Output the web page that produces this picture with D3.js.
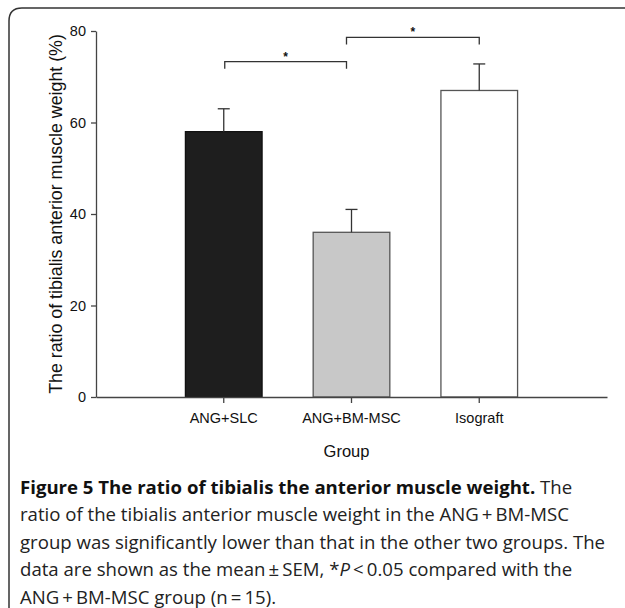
<!DOCTYPE html>
<html>
<head>
<meta charset="utf-8">
<script src="https://cdn.jsdelivr.net/npm/d3@7"></script>
<style>
  body { margin: 0; background: #fff; }
  svg { display: block; }
  .axis path, .axis line { stroke: #444; stroke-width: 1.3; }
  .axis text { font-family: 'Liberation Sans', Arial, sans-serif; font-size: 14px; fill: #111; }
  .caption { font-family: 'Open Sans', sans-serif; fill: #222; }
</style>
</head>
<body>
<div id="chart"></div>
<script>
// data
const groups = ['ANG+SLC', 'ANG+BM-MSC', 'Isograft'];
const means = [58, 36, 67];
const sems = [5, 5, 5.8];
const barFills = ['#1e1e1e', '#c8c8c8', '#ffffff'];
const yTicks = [0, 20, 40, 60, 80];
// significance brackets: [from group, to group, level]
const sigPairs = [['ANG+SLC', 'ANG+BM-MSC', 73.3], ['ANG+BM-MSC', 'Isograft', 78.6]];
const captionLines = [
  [{t: 'Figure 5 The ratio of tibialis the anterior muscle weight.', b: true}, {t: ' The'}],
  [{t: 'ratio of the tibialis anterior muscle weight in the ANG\u2009+\u2009BM-MSC'}],
  [{t: 'group was significantly lower than that in the other two groups. The'}],
  [{t: 'data are shown as the mean\u2009\u00b1\u2009SEM, *'}, {t: 'P', i: true}, {t: '\u2009<\u20090.05 compared with the'}],
  [{t: 'ANG\u2009+\u2009BM-MSC group (n\u2009=\u200915).'}]
];

const W = 625, H = 608;
const margin = { left: 96, right: 18, top: 31, bottom: 211 };

const svg = d3.select('#chart').append('svg')
  .attr('width', W)
  .attr('height', H);

/* ---------- frame ---------- */
svg.append('path')
  .attr('d', 'M9,640 L9,21 Q9,8 22,8 L640,8')
  .style('fill', 'none')
  .style('stroke', '#333')
  .style('stroke-width', 1.5);

const xScale = d3.scaleBand()
  .domain(groups)
  .range([margin.left, W - margin.right])
  .paddingInner(0.4)
  .paddingOuter(0.7);

const yScale = d3.scaleLinear()
  .domain([0, 80])
  .range([H - margin.bottom, margin.top]);

const x0 = H - margin.bottom;

/* ---------- bars ---------- */
svg.append('g').selectAll('rect')
  .data(groups)
  .enter()
  .append('rect')
  .attr('x', d => xScale(d))
  .attr('y', (d, i) => yScale(means[i]))
  .attr('width', xScale.bandwidth())
  .attr('height', (d, i) => x0 - yScale(means[i]))
  .style('fill', (d, i) => barFills[i])
  .style('stroke', (d, i) => i === 0 ? '#111' : '#555')
  .style('stroke-width', 1.3);

/* ---------- error bars (upper only) ---------- */
const eg = svg.append('g').style('stroke', '#333').style('stroke-width', 1.3);
groups.forEach((g, i) => {
  const cx = xScale(g) + xScale.bandwidth() / 2;
  eg.append('line')
    .attr('x1', cx).attr('x2', cx)
    .attr('y1', yScale(means[i])).attr('y2', yScale(means[i] + sems[i]));
  eg.append('line')
    .attr('x1', cx - 6).attr('x2', cx + 6)
    .attr('y1', yScale(means[i] + sems[i])).attr('y2', yScale(means[i] + sems[i]));
});

/* ---------- axes ---------- */
svg.append('g')
  .attr('class', 'axis axis--y')
  .attr('transform', 'translate(' + margin.left + ',0)')
  .call(d3.axisLeft(yScale).tickValues(yTicks).tickSize(5).tickSizeOuter(0).tickPadding(5));

svg.append('g')
  .attr('class', 'axis axis--x')
  .attr('transform', 'translate(0,' + x0 + ')')
  .call(d3.axisBottom(xScale).tickSize(6).tickSizeOuter(0).tickPadding(10));

svg.selectAll('.axis text').style('font-size', '14.5px');

svg.append('text')
  .attr('transform', 'translate(62,' + ((margin.top + x0) / 2) + ') rotate(-90)')
  .attr('text-anchor', 'middle')
  .style('font-family', "'Liberation Sans', Arial, sans-serif")
  .style('font-size', '17.8px')
  .style('fill', '#111')
  .text('The ratio of tibialis anterior muscle weight (%)');

svg.append('text')
  .attr('x', (margin.left + W - margin.right) / 2 - 5)
  .attr('y', 457)
  .attr('text-anchor', 'middle')
  .style('font-family', "'Liberation Sans', Arial, sans-serif")
  .style('font-size', '16.5px')
  .style('fill', '#111')
  .text('Group');

/* ---------- significance brackets ---------- */
const sg = svg.append('g');
sigPairs.forEach(p => {
  const xa = xScale(p[0]) + xScale.bandwidth() / 2 + (p[0] === groups[0] ? 1 : -5);
  const xb = xScale(p[1]) + xScale.bandwidth() / 2 + (p[1] === groups[2] ? 0 : -5);
  const y = yScale(p[2]);
  sg.append('path')
    .attr('d', `M${xa},${y + 7}V${y}H${xb}V${y + 7}`)
    .style('fill', 'none')
    .style('stroke', '#333')
    .style('stroke-width', 1.3);
  sg.append('text')
    .attr('x', (xa + xb) / 2)
    .attr('y', y - 1)
    .attr('text-anchor', 'middle')
    .style('font-family', "'Liberation Sans', Arial, sans-serif")
    .style('font-size', '12px')
    .style('font-weight', 'bold')
    .style('fill', '#111')
    .text('*');
});

/* ---------- caption ---------- */
const cap = svg.append('text')
  .attr('class', 'caption')
  .style('font-size', '18.6px');
captionLines.forEach((line, li) => {
  line.forEach((seg, si) => {
    const ts = cap.append('tspan').text(seg.t);
    if (si === 0) ts.attr('x', 20).attr('y', 494 + li * 27.4);
    if (seg.b) ts.style('font-weight', 700).style('fill', '#111');
    if (seg.i) ts.style('font-style', 'italic');
  });
});
</script>
</body>
</html>
